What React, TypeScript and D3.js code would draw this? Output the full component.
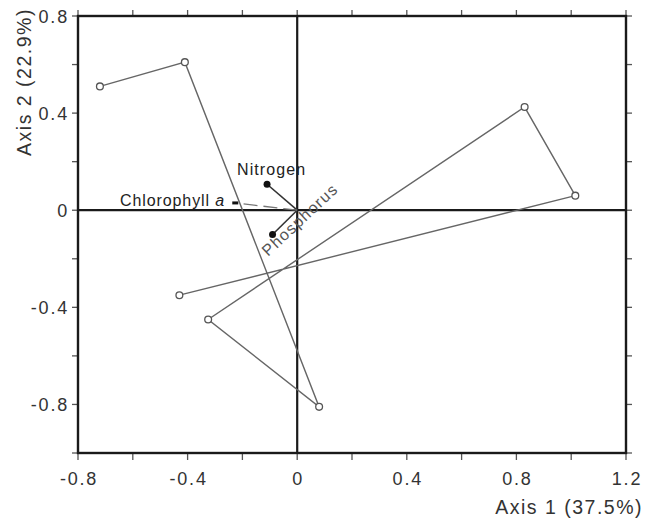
import React from 'react';
import * as d3 from 'd3';

// site scores (open circles), in the order the path joins them
const siteX = [-0.72, -0.41, 0.08, -0.325, 0.83, 1.015, -0.43];
const siteY = [0.51, 0.61, -0.81, -0.45, 0.425, 0.06, -0.35];

// environmental vectors
const envNames = ['Nitrogen', 'Phosphorus', 'Chlorophyll a'];
const envX = [-0.11, -0.09, -0.226];
const envY = [0.107, -0.1, 0.03];

const xTicks = [-0.8, -0.6, -0.4, -0.2, 0, 0.2, 0.4, 0.6, 0.8, 1.0, 1.2];
const xLabels = ['-0.8', '-0.4', '0', '0.4', '0.8', '1.2'];
const yTicks = [0.8, 0.6, 0.4, 0.2, 0, -0.2, -0.4, -0.6, -0.8, -1.0];
const yLabels = ['0.8', '0.4', '0', '-0.4', '-0.8'];

export default function App() {
  const width = 646;
  const height = 523;
  const left = 78, right = 626, top = 16, bottom = 453;

  const x = d3.scaleLinear().domain([-0.8, 1.2]).range([left, right]);
  const y = d3.scaleLinear().domain([-1.0, 0.8]).range([bottom, top]);

  const sitePath = d3.line<number>()
    .x((d, i) => x(siteX[i]))
    .y((d, i) => y(siteY[i]))(siteX);

  const font = '"Liberation Sans", Arial, sans-serif';
  const tickCol = '#555';
  const textCol = '#333';

  return (
    <svg width={width} height={height} style={{ position: 'absolute', left: 0, top: 0, background: '#fff' }}>
      {/* ticks on all four sides */}
      {xTicks.map((t, i) => (
        <g key={'xt' + i} stroke={tickCol} strokeWidth={1.3}>
          <line x1={x(t)} x2={x(t)} y1={bottom} y2={bottom + 7} />
          <line x1={x(t)} x2={x(t)} y1={top} y2={top - 6} />
        </g>
      ))}
      {yTicks.map((t, i) => (
        <g key={'yt' + i} stroke={tickCol} strokeWidth={1.3}>
          <line x1={left} x2={left - 6} y1={y(t)} y2={y(t)} />
          <line x1={right} x2={right + 6} y1={y(t)} y2={y(t)} />
        </g>
      ))}

      {/* zero lines */}
      <line x1={left} x2={right} y1={y(0)} y2={y(0)} stroke="#1a1a1a" strokeWidth={2.2} />
      <line x1={x(0)} x2={x(0)} y1={top} y2={bottom} stroke="#1a1a1a" strokeWidth={2.2} />

      {/* site path */}
      <path d={sitePath || ''} fill="none" stroke="#666" strokeWidth={1.4} />
      {siteX.map((d, i) => (
        <circle key={'s' + i} cx={x(d)} cy={y(siteY[i])} r={3.4} fill="#fff" stroke="#555" strokeWidth={1.3} />
      ))}

      {/* environmental vectors */}
      {envX.map((d, i) => (
        <g key={'e' + i}>
          <line x1={x(0)} y1={y(0)} x2={x(d)} y2={y(envY[i])}
            stroke={i === 2 ? '#777' : '#333'} strokeWidth={i === 2 ? 1.3 : 1.6}
            strokeDasharray={i === 2 ? '14 6' : undefined} />
          {i === 2
            ? <rect x={x(d) - 3} y={y(envY[i]) - 1.5} width={6} height={3} fill="#111" />
            : <circle cx={x(d)} cy={y(envY[i])} r={3.5} fill="#111" />}
        </g>
      ))}
      <text x={237} y={175} fontFamily={font} fontSize={16} letterSpacing={1.1} fill="#222">{envNames[0]}</text>
      <text transform="translate(268,257) rotate(-43)" fontFamily={font} fontSize={16} letterSpacing={1.2} fill="#555">{envNames[1]}</text>
      <text x={120} y={206} fontFamily={font} fontSize={16} letterSpacing={0.9} fill="#222">
        Chlorophyll <tspan fontStyle="italic">a</tspan>
      </text>

      {/* frame */}
      <rect x={left} y={top} width={right - left} height={bottom - top} fill="none" stroke="#1a1a1a" strokeWidth={2.4} />

      {/* tick labels */}
      {xLabels.map((l) => (
        <text key={'xl' + l} x={x(+l) + 1} y={bottom + 32} textAnchor="middle" fontFamily={font} fontSize={18} letterSpacing={1.8} fill={textCol}>{l}</text>
      ))}
      {yLabels.map((l) => (
        <text key={'yl' + l} x={left - 9} y={y(+l) + 7} textAnchor="end" fontFamily={font} fontSize={18} letterSpacing={1.8} fill={textCol}>{l}</text>
      ))}

      {/* axis titles */}
      <text x={643} y={514} textAnchor="end" fontFamily={font} fontSize={19.5} letterSpacing={1.5} fill={textCol}>Axis 1 (37.5%)</text>
      <text transform="translate(31,82) rotate(-90)" textAnchor="middle" fontFamily={font} fontSize={19.5} letterSpacing={1.5} fill={textCol}>Axis 2 (22.9%)</text>
    </svg>
  );
}
